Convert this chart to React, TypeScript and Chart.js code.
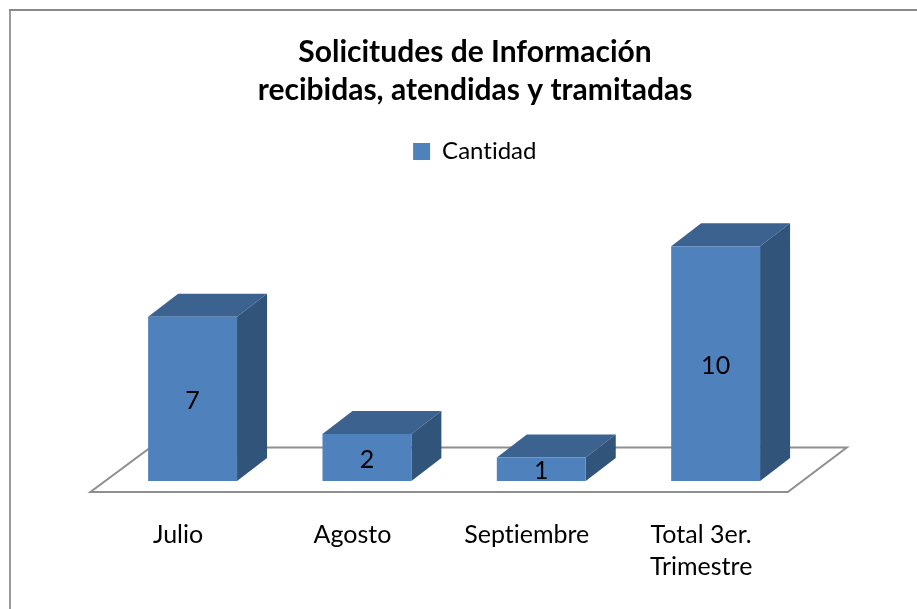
import { useEffect, useRef } from "react";
import { Chart, registerables } from "chart.js";

Chart.register(...registerables);

const categories: (string | string[])[] = ["Julio", "Agosto", "Septiembre", ["Total 3er.", "Trimestre"]];
const cantidad = [7, 2, 1, 10];
const seriesName = "Cantidad";
const titleLines = ["Solicitudes de Información", "recibidas, atendidas y tramitadas"];

const FONT = "Lato, 'Open Sans', sans-serif";
const FRONT = "#4f81bd";
const TOP = "#3c628f";
const SIDE = "#31547b";
const DX = 30;
const DY = 23;

const framePlugin = {
  id: "frame",
  beforeDraw(chart: any) {
    const { ctx, width, height } = chart;
    ctx.textRendering = "optimizeSpeed";
    ctx.save();
    ctx.fillStyle = "#ffffff";
    ctx.fillRect(0, 0, width, height);
    ctx.fillStyle = "#9a9a9a";
    ctx.fillRect(9, 9, 2, height - 9);
    ctx.fillStyle = "#898989";
    ctx.fillRect(9, 9, width - 9, 2);
    ctx.restore();
  },
};

const poly = (ctx: any, pts: number[][], fill?: string) => {
  ctx.beginPath();
  pts.forEach(([x, y], i) => (i ? ctx.lineTo(x, y) : ctx.moveTo(x, y)));
  ctx.closePath();
  if (fill) {
    ctx.fillStyle = fill;
    ctx.fill();
  }
};

const threeDPlugin = {
  id: "threeD",
  beforeDatasetsDraw(chart: any) {
    const { ctx, chartArea } = chart;
    const base = chart.scales.y.getPixelForValue(0);
    const l = chartArea.left;
    const r = chartArea.right;
    ctx.save();
    // floor
    poly(ctx, [
      [l - 15, base + 11],
      [r - 15, base + 11],
      [r + 44, base - 33.5],
      [l + 45, base - 33.5],
    ]);
    ctx.strokeStyle = "#8f8f8f";
    ctx.lineWidth = 2;
    ctx.stroke();
    // top and side faces
    chart.getDatasetMeta(0).data.forEach((bar: any) => {
      const p = bar.getProps(["x", "y", "base", "width"], true);
      const x0 = p.x - p.width / 2;
      const x1 = p.x + p.width / 2;
      poly(ctx, [[x0, p.y], [x0 + DX, p.y - DY], [x1 + DX, p.y - DY], [x1, p.y]], TOP);
      poly(ctx, [[x1, p.y], [x1 + DX, p.y - DY], [x1 + DX, p.base - DY], [x1, p.base]], SIDE);
    });
    ctx.restore();
  },
  afterDatasetsDraw(chart: any) {
    const { ctx } = chart;
    ctx.save();
    ctx.font = `25px ${FONT}`;
    ctx.fillStyle = "#000000";
    ctx.textAlign = "center";
    ctx.textBaseline = "middle";
    chart.getDatasetMeta(0).data.forEach((bar: any, i: number) => {
      const p = bar.getProps(["x", "y", "base"], true);
      ctx.fillText(String(cantidad[i]), p.x, (p.y + p.base) / 2 + 2);
    });
    ctx.restore();
  },
};

export default function App() {
  const ref = useRef<HTMLCanvasElement>(null);
  useEffect(() => {
    const chart = new Chart(ref.current as HTMLCanvasElement, {
      type: "bar",
      data: {
        labels: categories as any,
        datasets: [
          {
            label: seriesName,
            data: cantidad,
            backgroundColor: FRONT,
            borderWidth: 0,
            barPercentage: 0.51,
            categoryPercentage: 1,
          },
        ],
      },
      options: {
        responsive: false,
        animation: false,
        layout: { padding: { left: 33, right: 0, top: 0, bottom: 0 }, autoPadding: false },
        plugins: {
          tooltip: { enabled: false },
          title: {
            display: true,
            text: titleLines,
            color: "#000000",
            font: { family: FONT, size: 30, weight: "bold", lineHeight: 1.2667 },
            padding: { top: 33, bottom: 19 },
          },
          legend: {
            display: true,
            position: "top",
            labels: {
              boxWidth: 17,
              boxHeight: 17,
              padding: 11.5,
              color: "#000000",
              font: { family: FONT, size: 24 },
            },
          },
        },
        scales: {
          x: {
            grid: { display: false },
            border: { display: false },
            ticks: {
              color: "#000000",
              font: { family: FONT, size: 25, lineHeight: 1.28 },
              padding: 30,
              labelOffset: -14.5,
              maxRotation: 0,
              minRotation: 0,
              autoSkip: false,
            },
            afterFit: (s: any) => {
              s.height = 128;
            },
          },
          y: {
            min: 0,
            max: 13.1,
            grid: { display: false },
            border: { display: false },
            ticks: { display: false },
            afterFit: (s: any) => {
              s.width = 72.4;
            },
          },
          y2: {
            position: "right",
            grid: { display: false },
            border: { display: false },
            ticks: { display: false },
            afterFit: (s: any) => {
              s.width = 114.2;
            },
          },
        },
      } as any,
      plugins: [framePlugin, threeDPlugin],
    });
    return () => chart.destroy();
  }, []);
  return (
    <canvas
      ref={ref}
      width={917}
      height={609}
      style={{ position: "absolute", left: 0, top: 0, display: "block" }}
    />
  );
}
